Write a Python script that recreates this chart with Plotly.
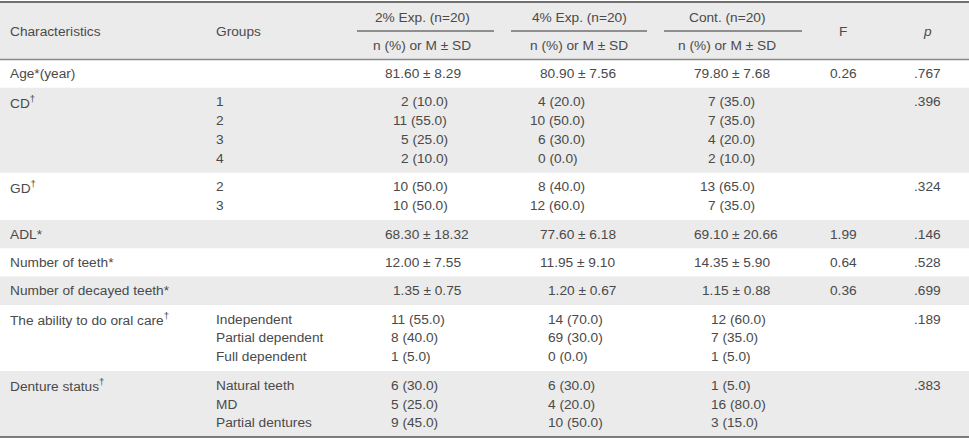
import plotly.graph_objects as go

# ---------------- data ----------------
row_labels = ["Age*(year)", "CD<sup>†</sup>", "GD<sup>†</sup>", "ADL*", "Number of teeth*",
              "Number of decayed teeth*", "The ability to do oral care<sup>†</sup>",
              "Denture status<sup>†</sup>"]
group_labels = [[""], ["1", "2", "3", "4"], ["2", "3"], [""], [""], [""],
                ["Independent", "Partial dependent", "Full dependent"],
                ["Natural teeth", "MD", "Partial dentures"]]
column_titles = ["2% Exp. (n=20)", "4% Exp. (n=20)", "Cont. (n=20)"]
sub_title = "n (%) or M ± SD"

# continuous rows (Age, ADL, teeth, decayed teeth)
mean_rows = [0, 3, 4, 5]
exp2_mean = [81.60, 68.30, 12.00, 1.35]
exp2_sd = [8.29, 18.32, 7.55, 0.75]
exp4_mean = [80.90, 77.60, 11.95, 1.20]
exp4_sd = [7.56, 6.18, 9.10, 0.67]
cont_mean = [79.80, 69.10, 14.35, 1.15]
cont_sd = [7.68, 20.66, 5.90, 0.88]
f_values = ["0.26", "1.99", "0.64", "0.36"]

# categorical rows
cd_exp2_n, cd_exp2_pct = [2, 11, 5, 2], [10.0, 55.0, 25.0, 10.0]
cd_exp4_n, cd_exp4_pct = [4, 10, 6, 0], [20.0, 50.0, 30.0, 0.0]
cd_cont_n, cd_cont_pct = [7, 7, 4, 2], [35.0, 35.0, 20.0, 10.0]
gd_exp2_n, gd_exp2_pct = [10, 10], [50.0, 50.0]
gd_exp4_n, gd_exp4_pct = [8, 12], [40.0, 60.0]
gd_cont_n, gd_cont_pct = [13, 7], [65.0, 35.0]
oral_exp2_n, oral_exp2_pct = [11, 8, 1], [55.0, 40.0, 5.0]
oral_exp4_n, oral_exp4_pct = [14, 69, 0], [70.0, 30.0, 0.0]
oral_cont_n, oral_cont_pct = [12, 7, 1], [60.0, 35.0, 5.0]
den_exp2_n, den_exp2_pct = [6, 5, 9], [30.0, 25.0, 45.0]
den_exp4_n, den_exp4_pct = [6, 4, 10], [30.0, 20.0, 50.0]
den_cont_n, den_cont_pct = [1, 16, 3], [5.0, 80.0, 15.0]

p_values = [".767", ".396", ".324", ".146", ".528", ".699", ".189", ".383"]

# ---------------- layout constants ----------------
W, H = 969, 443
FS = 13.7
FONT = "Liberation Sans, Arial, sans-serif"
TXT = "#4a4a4a"
GRAY = "#ebebeb"
DW = 0.556 * FS  # digit width
PITCH, PAD = 18.9, 9.4
BODY_TOP = 59.5

X_CHAR, X_GROUP = 9, 215
COL_CENTERS = [422, 579, 727]
LINE_SPANS = [(357, 494), (511, 647), (664, 802)]
X_F, X_P = 843, 927
MEAN_LEFT = [384, 539, 693]
PAD_COUNT_LEFT = [392, 529, 699]
COUNT_LEFT = [390, 547, 710]

fig = go.Figure()
shapes, ann = [], []


def text(x, y, s, anchor="left"):
    ann.append(dict(x=x, y=y, text=s, showarrow=False, xanchor=anchor, yanchor="middle",
                    xref="x", yref="y", borderpad=0,
                    font=dict(family=FONT, size=FS, color=TXT)))


# header
shapes.append(dict(type="rect", x0=0, x1=W, y0=2, y1=BODY_TOP, fillcolor=GRAY, line_width=0, layer="below"))
text(X_CHAR, 31.5, "Characteristics")
text(X_GROUP, 31.5, "Groups")
for c, title in enumerate(column_titles):
    text(COL_CENTERS[c], 17, title, "center")
    text(COL_CENTERS[c], 45.5, sub_title, "center")
    x0, x1 = LINE_SPANS[c]
    shapes.append(dict(type="line", x0=x0, x1=x1, y0=31, y1=31, line=dict(color="#333", width=1)))
text(X_F, 31.5, "F", "center")
text(X_P, 31.5, "<i>p</i>", "center")

# body rows
row_lines = [len(g) for g in group_labels]
tops = []
y = BODY_TOP
for i, n in enumerate(row_lines):
    h = n * PITCH + PAD
    tops.append(y)
    if i % 2 == 1:
        shapes.append(dict(type="rect", x0=0, x1=W, y0=y, y1=y + h, fillcolor=GRAY, line_width=0, layer="below"))
    y += h
bottom = y


def line_y(i, k):
    return tops[i] + PAD / 2 + PITCH * (k + 0.5)


for i, lab in enumerate(row_labels):
    text(X_CHAR, line_y(i, 0), lab)
    for k, g in enumerate(group_labels[i]):
        if g:
            text(X_GROUP, line_y(i, k), g)
    text(X_P, line_y(i, 0), p_values[i], "center")

# means
mean_cols = [(exp2_mean, exp2_sd), (exp4_mean, exp4_sd), (cont_mean, cont_sd)]
for j, r in enumerate(mean_rows):
    for c, (m, s) in enumerate(mean_cols):
        x = MEAN_LEFT[c] + (DW if m[j] < 10 else 0)
        text(x, line_y(r, 0), f"{m[j]:.2f} ± {s[j]:.2f}")
    text(X_F, line_y(r, 0), f_values[j], "center")

# counts
count_blocks = [
    (1, [(cd_exp2_n, cd_exp2_pct), (cd_exp4_n, cd_exp4_pct), (cd_cont_n, cd_cont_pct)], True),
    (2, [(gd_exp2_n, gd_exp2_pct), (gd_exp4_n, gd_exp4_pct), (gd_cont_n, gd_cont_pct)], True),
    (6, [(oral_exp2_n, oral_exp2_pct), (oral_exp4_n, oral_exp4_pct), (oral_cont_n, oral_cont_pct)], False),
    (7, [(den_exp2_n, den_exp2_pct), (den_exp4_n, den_exp4_pct), (den_cont_n, den_cont_pct)], False),
]
for r, cols, padded in count_blocks:
    for c, (ns, ps) in enumerate(cols):
        for k, (n, p) in enumerate(zip(ns, ps)):
            if padded:
                x = PAD_COUNT_LEFT[c] + (DW if n < 10 else 0)
            else:
                x = COUNT_LEFT[c]
            text(x, line_y(r, k), f"{n} ({p:.1f})")

# rules
shapes.append(dict(type="line", x0=0, x1=W, y0=2, y1=2, line=dict(color="#707070", width=2)))
shapes.append(dict(type="line", x0=0, x1=W, y0=BODY_TOP, y1=BODY_TOP, line=dict(color="#8a8a8a", width=1.6)))
shapes.append(dict(type="line", x0=0, x1=W, y0=bottom, y1=bottom, line=dict(color="#555", width=1.5)))

fig.update_layout(
    width=W, height=H, margin=dict(l=0, r=0, t=0, b=0),
    paper_bgcolor="white", plot_bgcolor="white",
    xaxis=dict(range=[0, W], visible=False, fixedrange=True),
    yaxis=dict(range=[H, 0], visible=False, fixedrange=True),
    shapes=shapes, annotations=ann, showlegend=False,
)
fig.write_html("out.html", config={"displayModeBar": False},
               post_script="document.body.style.margin='0';document.body.style.overflow='hidden';")
